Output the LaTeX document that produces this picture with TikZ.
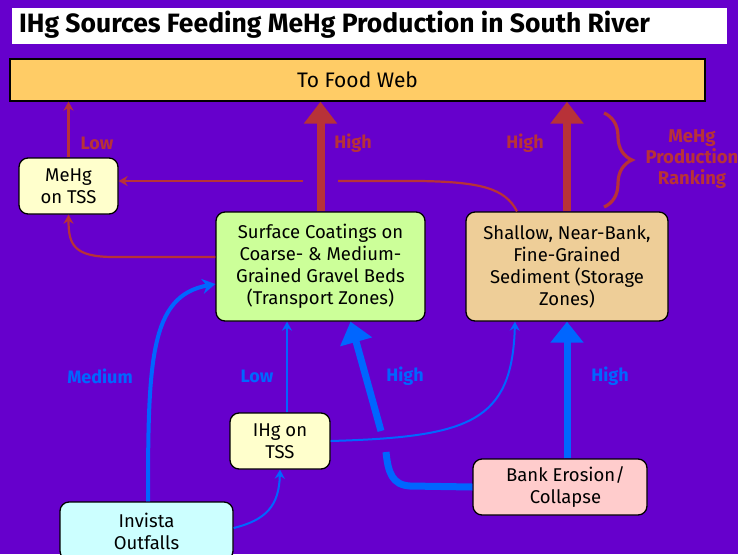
\documentclass[tikz,border=0pt]{standalone}
\usepackage{fontspec}
\setmainfont{Fira Sans}
\usetikzlibrary{arrows.meta,decorations.pathreplacing}
\definecolor{bgpurple}{RGB}{102,0,204}
\definecolor{rred}{RGB}{184,50,56}
\definecolor{bblue}{RGB}{0,102,255}
\definecolor{foodfill}{RGB}{255,204,102}
\definecolor{surffill}{RGB}{204,255,153}
\definecolor{shalfill}{RGB}{238,206,152}
\definecolor{paleyellow}{RGB}{255,255,204}
\definecolor{pink}{RGB}{255,204,204}
\definecolor{cyanfill}{RGB}{204,255,255}
\tikzset{
  box/.style={draw=black, line width=1.3pt, rounded corners=9pt, align=center,
    font=\fontsize{18.5}{22}\selectfont, inner sep=2pt},
  lbl/.style={font=\fontsize{18}{20}\selectfont\bfseries},
  thinred/.style={draw=rred, line width=2.2pt, -{Stealth[width=10pt,length=9pt]}},
  thinredline/.style={draw=rred, line width=2.2pt},
  bigred/.style={draw=rred, line width=8pt, -{Triangle[width=32pt,length=22pt]}},
  thinblue/.style={draw=bblue, line width=2pt, -{Stealth[width=10pt,length=9pt]}},
  medblue/.style={draw=bblue, line width=4pt, -{Stealth[width=15pt,length=13pt]}},
  bigblue/.style={draw=bblue, line width=7pt, -{Triangle[width=32pt,length=21pt]}},
  bigblueline/.style={draw=bblue, line width=7pt},
}
\begin{document}
\begin{tikzpicture}[x=1pt,y=-1pt]
\fill[bgpurple] (0,0) rectangle (738,554);
\useasboundingbox (0,0) rectangle (738,554);
% title
\node[fill=white, minimum width=715pt, minimum height=36pt, inner sep=0pt] (titlebox) at (369.5,26) {};
\node[anchor=west, font=\fontsize{26.5}{28}\selectfont\bfseries, inner sep=0pt] (title) at (19,25) {IHg Sources Feeding MeHg Production in South River};
% nodes
\node[draw=black, line width=1.3pt, fill=foodfill, minimum width=695pt, minimum height=42pt, font=\fontsize{21}{24}\selectfont] (food) at (357.5,80) {To Food Web};
\node[box, fill=paleyellow, minimum width=99pt, minimum height=56pt] (mehg) at (68.5,186) {MeHg\\on TSS};
\node[box, fill=surffill, minimum width=209pt, minimum height=109pt] (surf) at (320.5,266.5) {Surface Coatings on\\Coarse- \& Medium-\\Grained Gravel Beds\\(Transport Zones)};
\node[box, fill=shalfill, minimum width=202pt, minimum height=109pt] (shal) at (567,266.5) {Shallow, Near-Bank,\\Fine-Grained\\Sediment (Storage\\Zones)};
\node[box, fill=paleyellow, minimum width=100pt, minimum height=56pt] (ihg) at (280,441) {IHg on\\TSS};
\node[box, fill=pink, minimum width=174pt, minimum height=56pt] (bank) at (560,487) {\hspace*{11pt}Bank Erosion/\\\hspace*{11pt}Collapse};
\node[box, fill=cyanfill, minimum width=173pt, minimum height=58pt] (inv) at (146.5,531) {Invista\\Outfalls};
% red connectors
\coordinate (g1) at (338,181);
\coordinate (g2) at (303,181);
\draw[thinred] (mehg.north) -- (mehg.north |- food.south);
\draw[bigred] (surf.north) -- (surf.north |- food.south);
\draw[bigred] (shal.north) -- (shal.north |- food.south);
\draw[thinredline] ([xshift=-50pt]shal.north) .. controls (505,188) and (480,182) .. (420,181) -- (g1);
\draw[thinred] (g2) -- (mehg.east |- g2);
\draw[thinred] ([yshift=9.5pt]surf.west) -- (114,257) .. controls (74,257) and (68.5,245) .. (mehg.south);
% red labels
\node[lbl, text=rred] (lowr) at (97,143) {Low};
\node[lbl, text=rred] (highr1) at (353,143) {High};
\node[lbl, text=rred] (highr2) at (525,143) {High};
\draw[rred, line width=3.2pt, decorate, decoration={brace, amplitude=28pt}] (604,113) -- (604,207);
\node[lbl, text=rred, align=center, font=\fontsize{18.5}{21}\selectfont\bfseries] (rank) at (692,159) {MeHg\\Production\\Ranking};
% blue connectors
\coordinate (b1) at (386,452);
\coordinate (b2) at (381,431);
\draw[medblue] ([xshift=1.5pt]inv.north) .. controls (148,360) and (150,296) .. ([yshift=-17.5pt]surf.west);
\draw[thinblue] ([yshift=3pt]inv.east) .. controls (266,520) and (279,506) .. (ihg.south);
\draw[thinblue] ([xshift=7pt]ihg.north) -- ([xshift=7pt]ihg.north |- surf.south);
\draw[bigblueline] (bank.west) -- (410,486) .. controls (392,485) and (388,472) .. (b1);
\draw[bigblue] (b2) -- ([xshift=30pt]surf.south);
\draw[thinblue] (ihg.east) .. controls (470,437) and (512,422) .. ([xshift=-52pt]shal.south);
\draw[bigblue] (shal.south |- bank.north) -- (shal.south);
% blue labels
\node[lbl, text=bblue] (medl) at (100,376) {Medium};
\node[lbl, text=bblue] (lowb) at (257,376) {Low};
\node[lbl, text=bblue] (highb1) at (405,376) {High};
\node[lbl, text=bblue] (highb2) at (610,376) {High};
\end{tikzpicture}
\end{document}
